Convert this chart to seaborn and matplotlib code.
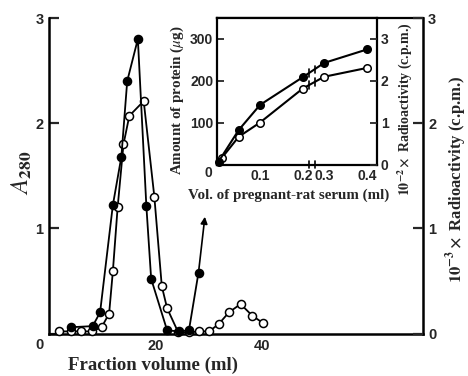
import numpy as np
import pandas as pd
import matplotlib
matplotlib.use("Agg")
import matplotlib.pyplot as plt
import seaborn as sns

sns.set_style("white")
plt.rcParams['mathtext.fontset'] = 'stix'
plt.rcParams['font.family'] = ['Liberation Serif', 'DejaVu Serif']

# ---------------- data: main elution profile ----------------
open_vol = [1.9, 4.2, 6.1, 8.1, 9.9, 11.3, 12.0, 12.9, 14.0, 15.1, 17.8, 19.8, 21.2, 22.2,
            24.3, 26.3, 28.1, 30.1, 31.9, 33.8, 36.0, 38.2, 40.2]
open_val = [0.02, 0.02, 0.02, 0.02, 0.06, 0.19, 0.59, 1.20, 1.80, 2.07, 2.21, 1.30, 0.45, 0.24,
            0.01, 0.01, 0.02, 0.02, 0.09, 0.20, 0.28, 0.17, 0.10]
filled_vol = [4.2, 8.2, 9.6, 12.0, 13.6, 14.7, 16.7, 18.3, 19.2, 22.2, 24.4, 26.3, 28.1]
filled_val = [0.06, 0.07, 0.20, 1.22, 1.68, 2.40, 2.80, 1.21, 0.52, 0.03, 0.02, 0.03, 0.58]
arrow_tip = (29.3, 1.11)

main_xticks = [20, 40]
main_yticks = [0, 1, 2, 3]

# ---------------- data: inset ----------------
inset_filled_vol = [0.003, 0.05, 0.1, 0.2, 0.3, 0.4]
inset_filled_prot = [7, 82, 142, 208, 242, 274]
inset_open_vol = [0.01, 0.05, 0.1, 0.2, 0.3, 0.4]
inset_open_prot = [15, 66, 100, 181, 209, 230]
inset_xticks = [0.1, 0.2, 0.3, 0.4]
inset_xticklabels = ['0.1', '0.2', '0.3', '0.4']
inset_yticks = [100, 200, 300]
inset_rticks = [0, 1, 2, 3]

# ---------------- figure ----------------
W, H = 468, 376
fig = plt.figure(figsize=(W / 100, H / 100), dpi=100)

def fbox(x0, y0, x1, y1):
    return [x0 / W, 1 - y1 / H, (x1 - x0) / W, (y1 - y0) / H]

tickfont = dict(family='Liberation Sans', weight='bold', size=10.5)
itickfont = dict(family='Liberation Sans', weight='bold', size=10)

ax = fig.add_axes(fbox(49, 18, 422.5, 333.5))
df_open = pd.DataFrame({'vol': open_vol, 'val': open_val})
df_fill = pd.DataFrame({'vol': filled_vol, 'val': filled_val})
sns.lineplot(data=df_open, x='vol', y='val', ax=ax, color='black', linewidth=1.3,
             marker='o', markersize=5.8, markerfacecolor='white', markeredgecolor='black',
             markeredgewidth=1.1, clip_on=False, zorder=3)
sns.lineplot(data=df_fill, x='vol', y='val', ax=ax, color='black', linewidth=1.3,
             marker='o', markersize=5.8, markerfacecolor='black', markeredgecolor='black',
             markeredgewidth=1.1, clip_on=False, zorder=4)
ax.annotate('', xy=arrow_tip, xytext=(filled_vol[-1], filled_val[-1]),
            arrowprops=dict(arrowstyle='-|>', color='black', lw=1.2, mutation_scale=10,
                            shrinkA=0, shrinkB=0))
ax.set_xlim(0, 70.2)
ax.set_ylim(0, 3)
ax.set_xticks(main_xticks)
ax.set_xticklabels([str(t) for t in main_xticks], **tickfont)
ax.set_yticks(main_yticks)
ax.set_yticklabels([''] + [str(t) for t in main_yticks[1:]], **tickfont)
ax.tick_params(direction='in', length=7, width=1.6, pad=4)
ax.tick_params(axis='x', pad=4)
for s in ['left', 'bottom', 'right']:
    ax.spines[s].set_linewidth(1.8)
    ax.spines[s].set_color('black')
ax.spines['top'].set_linewidth(1.6)
ax.spines['top'].set_color('black')
ax.spines['top'].set_bounds((217.3 - 49) / 373.5 * 70.2, 70.2)
ax.set_xlabel('Fraction volume (ml)', fontsize=13.5, fontweight='bold', va='center')
ax.xaxis.set_label_coords(0.278, -0.10)
ax.set_ylabel(r'$\mathit{A}_{\mathbf{280}}$', fontsize=18, va='center')
ax.yaxis.set_label_coords(-0.072, 0.508)
ax.set_facecolor('none')

axr = ax.twinx()
axr.set_ylim(0, 3)
axr.set_yticks(main_yticks)
axr.set_yticklabels([str(t) for t in main_yticks], **tickfont)
axr.tick_params(direction='in', length=7, width=1.6, pad=4)
for s in axr.spines.values():
    s.set_visible(False)
axr.set_ylabel(r'$\mathbf{10^{-3}\times}$ Radioactivity (c.p.m.)', fontsize=12,
               fontweight='bold', va='center', rotation=90)
axr.yaxis.set_label_coords(1.092, 0.49)

fig.text(39 / W, 1 - 345 / H, '0', ha='center', va='center', **tickfont)

# ---------------- inset ----------------
def fwd(x):
    x = np.asarray(x, dtype=float)
    return np.where(x <= 0.2, x, np.where(x <= 0.3, 0.2 + (x - 0.2) * 0.5, x - 0.05))

def inv(y):
    y = np.asarray(y, dtype=float)
    return np.where(y <= 0.2, y, np.where(y <= 0.25, 0.2 + (y - 0.2) * 2, y + 0.05))

ins = fig.add_axes(fbox(217.3, 18, 376.7, 164.5))
ins.set_facecolor('white')
ins.set_xscale('function', functions=(fwd, inv))
df_io = pd.DataFrame({'vol': inset_open_vol, 'prot': inset_open_prot})
df_if = pd.DataFrame({'vol': inset_filled_vol, 'prot': inset_filled_prot})
sns.lineplot(data=df_io, x='vol', y='prot', ax=ins, color='black', linewidth=1.5,
             marker='o', markersize=5.4, markerfacecolor='white', markeredgecolor='black',
             markeredgewidth=1.1, clip_on=False, zorder=3)
sns.lineplot(data=df_if, x='vol', y='prot', ax=ins, color='black', linewidth=1.5,
             marker='o', markersize=5.4, markerfacecolor='black', markeredgecolor='black',
             markeredgewidth=1.1, clip_on=False, zorder=4)
ins.set_xlim(0, 0.423)
ins.set_ylim(0, 349)
ins.set_xticks(inset_xticks)
ins.set_xticklabels(inset_xticklabels, **itickfont)
ins.set_yticks(inset_yticks)
ins.set_yticklabels([str(t) for t in inset_yticks], **itickfont)
ins.tick_params(direction='in', length=5, width=1.3, pad=3)
for s in ins.spines.values():
    s.set_linewidth(1.6)
    s.set_color('black')
ins.set_xlabel('Vol. of pregnant-rat serum (ml)', fontsize=10.8, fontweight='bold', va='center')
ins.xaxis.set_label_coords(0.45, -0.208)
ins.set_ylabel(r'Amount of protein ($\mathit{\mu}$g)', fontsize=10.8, fontweight='bold', va='center')
ins.yaxis.set_label_coords(-0.253, 0.44)

# break marks on axis and curves
for bx in [0.23, 0.255]:
    ins.plot([bx, bx], [-8, 8], color='black', lw=1.2, clip_on=False, zorder=5)
    for vols, prots in [(inset_filled_vol, inset_filled_prot), (inset_open_vol, inset_open_prot)]:
        yb = np.interp(bx, vols, prots)
        ins.plot([bx, bx], [yb - 9, yb + 9], color='black', lw=1.2, zorder=5)

insr = ins.twinx()
insr.set_ylim(0, 3.49)
insr.set_yticks(inset_rticks)
insr.set_yticklabels([str(t) for t in inset_rticks], **itickfont)
insr.tick_params(direction='in', length=5, width=1.3, pad=3)
for s in insr.spines.values():
    s.set_visible(False)
insr.set_ylabel(r'$\mathbf{10^{-2}\times}$ Radioactivity (c.p.m.)', fontsize=10,
                fontweight='bold', va='center', rotation=90)
insr.yaxis.set_label_coords(1.175, 0.38)

fig.text(208 / W, 1 - 173 / H, '0', ha='center', va='center', **itickfont)

fig.savefig('out.png', dpi=100, facecolor='white')
